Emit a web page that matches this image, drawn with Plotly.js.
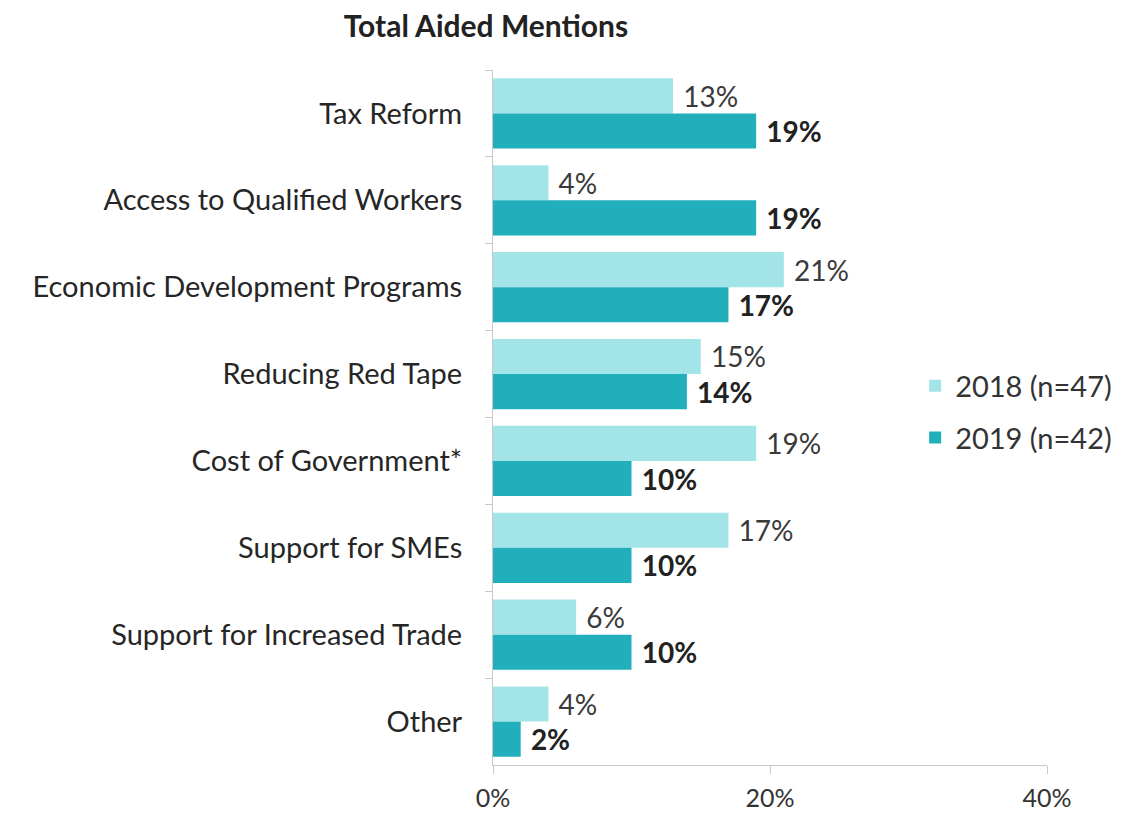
<!DOCTYPE html>
<html>
<head>
<meta charset="utf-8">
<script src="https://cdn.plot.ly/plotly-3.0.1.min.js"></script>
<style>html,body{margin:0;padding:0;background:#fff;}#chart{width:1138px;height:814px;}</style>
</head>
<body>
<div id="chart"></div>
<script>
var categories = ["Tax Reform", "Access to Qualified Workers", "Economic Development Programs", "Reducing Red Tape", "Cost of Government*", "Support for SMEs", "Support for Increased Trade", "Other"];
var values2018 = [13, 4, 21, 15, 19, 17, 6, 4];
var values2019 = [19, 19, 17, 14, 10, 10, 10, 2];
var seriesNames = ["2018 (n=47)", "2019 (n=42)"];
var tickVals = [0, 20, 40];
var tickText = ["0%", "20%", "40%"];

var fontFam = "Lato, 'Open Sans', sans-serif";
var traces = [
  {type: "bar", orientation: "h", name: seriesNames[0], y: categories, x: values2018,
   marker: {color: "#A3E4E9"}, legendgroup: "a",
   texttemplate: "\u00a0%{x}%", textposition: "outside", cliponaxis: false,
   textfont: {family: fontFam, size: 28, color: "#3a3a3a"}, hoverinfo: "x+y"},
  {type: "bar", orientation: "h", name: seriesNames[1], y: categories, x: values2019,
   marker: {color: "#21AFBB"}, legendgroup: "b",
   texttemplate: "\u00a0<b>%{x}%</b>", textposition: "outside", cliponaxis: false,
   textfont: {family: fontFam, size: 28, color: "#222"}, hoverinfo: "x+y"}
];

var layout = {
  width: 1138, height: 814,
  margin: {l: 493, r: 91, t: 70, b: 49},
  paper_bgcolor: "#fff", plot_bgcolor: "#fff",
  barmode: "group", bargap: 0.19, bargroupgap: 0,
  font: {family: fontFam, color: "#333"},
  title: {text: "<b>Total Aided Mentions</b>", font: {family: fontFam, size: 30, color: "#222"},
          xref: "container", x: 0.427, xanchor: "center", yref: "container", y: 0.967, yanchor: "middle"},
  xaxis: {range: [0, 40], tickvals: tickVals, ticktext: tickText, showgrid: false, zeroline: false,
          showline: true, linecolor: "#c8c8c8", linewidth: 1, ticks: "outside", ticklen: 8, tickcolor: "#c8c8c8",
          ticklabelstandoff: 3,
          tickfont: {family: fontFam, size: 25, color: "#333"}, fixedrange: true},
  yaxis: {autorange: "reversed", showgrid: false, zeroline: false, showline: true, linecolor: "#c8c8c8", linewidth: 1,
          ticks: "outside", tickson: "boundaries", ticklen: 7, tickcolor: "#c8c8c8",
          tickfont: {family: fontFam, size: 29, color: "#262626"}, ticklabelstandoff: 24, fixedrange: true},
  legend: {x: 0.762, y: 0.508, xanchor: "left", yanchor: "middle", font: {family: fontFam, size: 29, color: "#333"},
           tracegroupgap: 11, bgcolor: "rgba(0,0,0,0)"},
  showlegend: true
};

Plotly.newPlot("chart", traces, layout, {displayModeBar: false, staticPlot: true});
</script>
</body>
</html>
